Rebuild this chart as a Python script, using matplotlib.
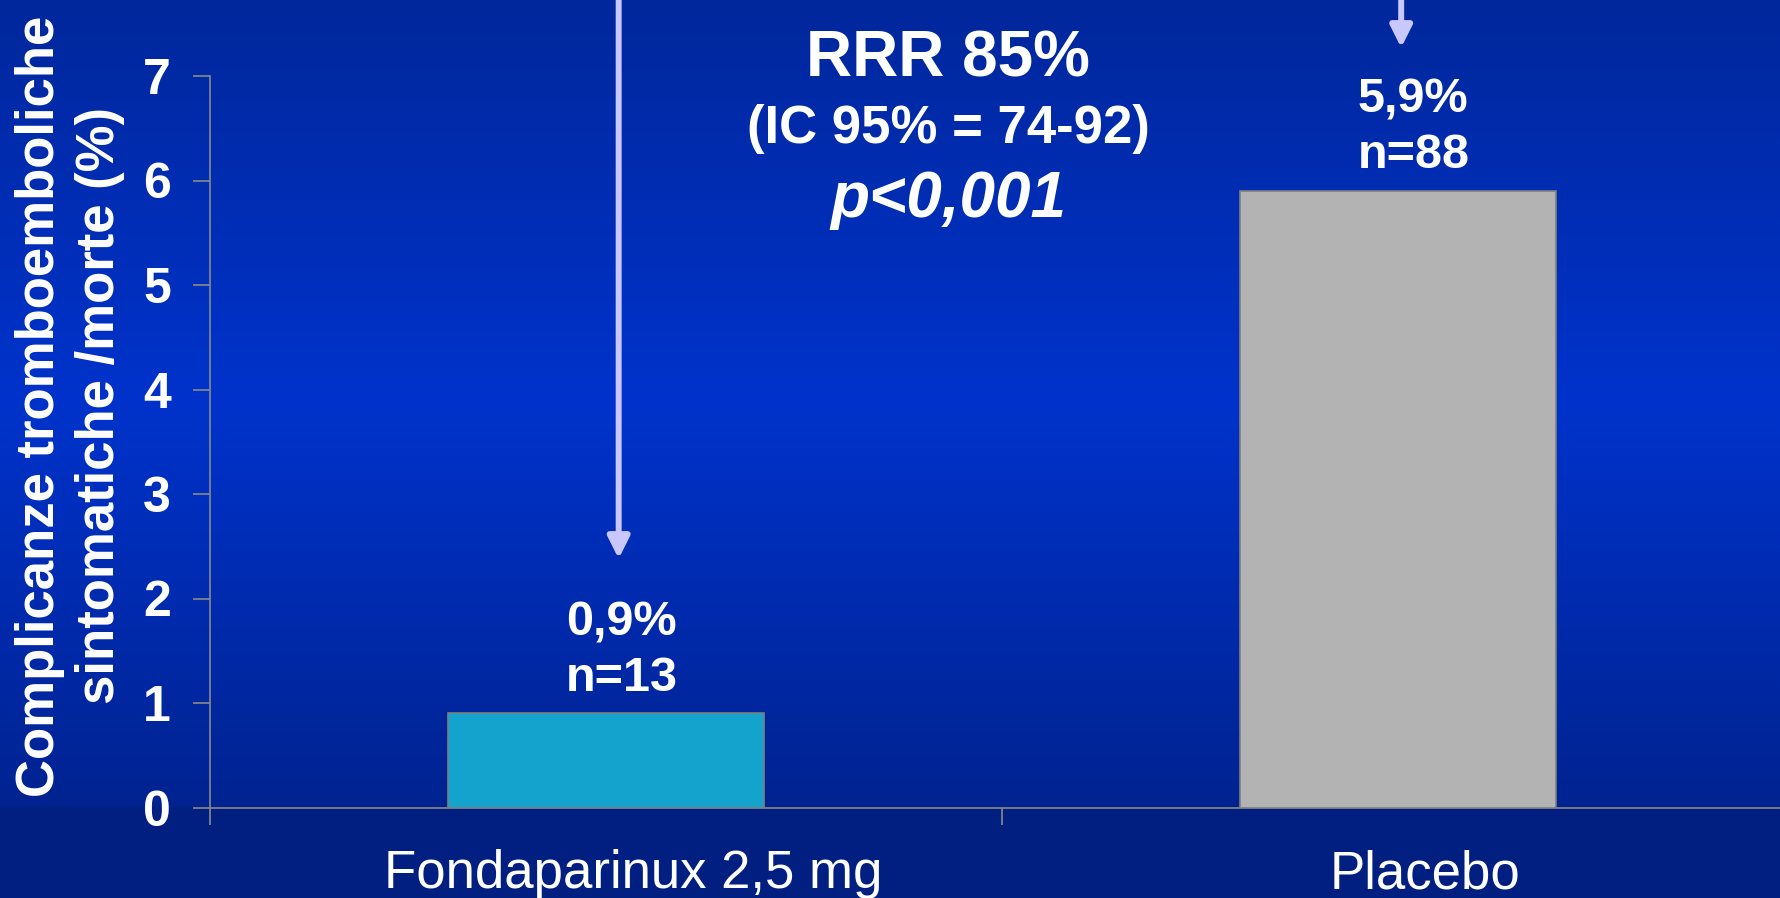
import numpy as np
import matplotlib
matplotlib.use("Agg")
import matplotlib.pyplot as plt
from matplotlib.colors import to_rgb
from matplotlib.transforms import ScaledTranslation

plt.rcParams['font.family'] = ['Liberation Sans', 'DejaVu Sans']

# data
categories = ["Fondaparinux 2,5 mg", "Placebo"]
rates = [0.9, 5.9]
events = [13, 88]
bar_colors = ["#13a3cc", "#b3b3b3"]
yticks = [0, 1, 2, 3, 4, 5, 6, 7]

W, H = 1780, 898
fig = plt.figure(figsize=(W / 100, H / 100), dpi=100)

# slide background: vertical blue gradient, flat dark band under the chart
stops_y = [0, 400, 805, 808, 898]
stops_c = [to_rgb("#01279b"), to_rgb("#0033cc"), to_rgb("#002391"),
           to_rgb("#001f80"), to_rgb("#001f80")]
yy = np.arange(H)
grad = np.zeros((H, 1, 3))
for k in range(3):
    grad[:, 0, k] = np.interp(yy, stops_y, [c[k] for c in stops_c])
bg = fig.add_axes([0, 0, 1, 1], zorder=-1)
bg.imshow(grad, aspect="auto", extent=[0, 1, 0, 1])
bg.axis("off")

ax = fig.add_axes([210 / W, 90.5 / H, 1584 / W, 731.5 / H])
ax.set_facecolor("none")

x = np.arange(len(categories))
ax.bar(x, rates, width=0.4, color=bar_colors, edgecolor="#7f7f7f",
       linewidth=1.2, zorder=3)

ax.set_xlim(-0.5, 1.5)
ax.set_ylim(0, 7)

axis_gray = "#8a8a8a"
for s in ["top", "right"]:
    ax.spines[s].set_visible(False)
for s in ["left", "bottom"]:
    ax.spines[s].set_color(axis_gray)
    ax.spines[s].set_linewidth(1.2)

ax.set_yticks(yticks)
ax.set_yticklabels([str(t) for t in yticks], fontsize=36, fontweight="bold",
                   color="white")
ax.tick_params(axis="y", length=12, width=1.2, color=axis_gray, pad=16)

ax.set_xticks(x)
ax.set_xticklabels(categories, fontsize=38, color="white")
ax.set_xticks([-0.5, 0.5, 1.5], minor=True)
ax.tick_params(axis="x", which="major", length=0, pad=30)
ax.tick_params(axis="x", which="minor", length=12, width=1.2, color=axis_gray)
# category names sit a little right of the bar centres
shift = ScaledTranslation(0.27, 0, fig.dpi_scale_trans)
for lbl in ax.get_xticklabels():
    lbl.set_transform(lbl.get_transform() + shift)

# value labels above the bars
for xi, v, n in zip(x, rates, events):
    ax.annotate(f"{v:.1f}".replace(".", ",") + f"%\nn={n}", xy=(xi, v),
                xytext=(11, 9), textcoords="offset points", ha="center",
                va="bottom", fontsize=35, fontweight="bold", color="white",
                linespacing=1.3, zorder=4)

# arrows coming down from above the plot
arrow_kw = dict(arrowstyle="-|>,head_length=1.3,head_width=0.65",
                color="#c8c8ff", lw=4.3, shrinkA=0, shrinkB=0)
ax.annotate("", xy=(0.016, 2.38), xytext=(0.016, 8.0),
            arrowprops=arrow_kw, annotation_clip=False)
ax.annotate("", xy=(1.004, 7.27), xytext=(1.004, 8.0),
            arrowprops=arrow_kw, annotation_clip=False)

fig.text(948 / W, 1 - 76.7 / H, "RRR 85%", ha="center", va="baseline",
         fontsize=46, fontweight="bold", color="white")
fig.text(948 / W, 1 - 142.7 / H, "(IC 95% = 74-92)", ha="center",
         va="baseline", fontsize=38, fontweight="bold", color="white")
fig.text(948 / W, 1 - 216.7 / H, "p<0,001", ha="center", va="baseline",
         fontsize=46, fontweight="bold", fontstyle="italic", color="white")

fig.text(70 / W, 1 - 406 / H,
         "Complicanze tromboemboliche\nsintomatiche /morte (%)",
         rotation=90, ha="center", va="center", multialignment="center",
         fontsize=38, fontweight="bold", color="white", linespacing=1.25)

fig.savefig("out.png", dpi=100)
